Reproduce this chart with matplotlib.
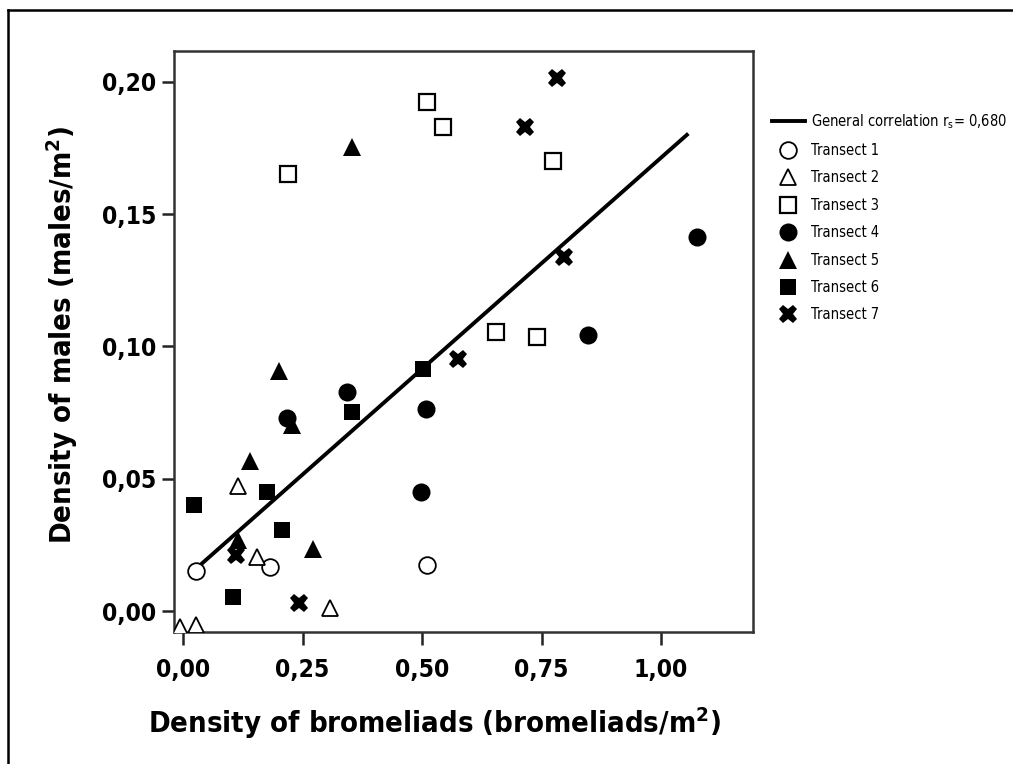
import matplotlib
matplotlib.use("Agg")
import matplotlib.pyplot as plt
from matplotlib import font_manager
from matplotlib.lines import Line2D

# values
T1_X = [0.027, 0.182, 0.510]
T1_Y = [0.0151, 0.0166, 0.0174]
T2_X = [-0.006, 0.027, 0.115, 0.155, 0.308]
T2_Y = [-0.0060, -0.0053, 0.0472, 0.0204, 0.0011]
T3_X = [0.220, 0.510, 0.544, 0.774, 0.655, 0.741]
T3_Y = [0.1652, 0.1924, 0.1829, 0.1701, 0.1054, 0.1036]
T4_X = [0.218, 0.343, 0.508, 0.498, 0.847, 1.075]
T4_Y = [0.0729, 0.0828, 0.0763, 0.0450, 0.1043, 0.1413]
T5_X = [0.354, 0.201, 0.228, 0.140, 0.115, 0.272]
T5_Y = [0.1754, 0.0907, 0.0703, 0.0567, 0.0268, 0.0234]
T6_X = [0.023, 0.176, 0.207, 0.105, 0.354, 0.502]
T6_Y = [0.0401, 0.0450, 0.0306, 0.0053, 0.0752, 0.0915]
T7_X = [0.782, 0.715, 0.797, 0.575, 0.111, 0.243]
T7_Y = [0.2014, 0.1829, 0.1338, 0.0952, 0.0212, 0.0030]
FIT_X = [0.036, 1.054]
FIT_Y = [0.0174, 0.1799]

X_TICKS = [0.0, 0.25, 0.5, 0.75, 1.0]
X_TICKLABELS = ["0,00", "0,25", "0,50", "0,75", "1,00"]
Y_TICKS = [0.0, 0.05, 0.10, 0.15, 0.20]
Y_TICKLABELS = ["0,00", "0,05", "0,10", "0,15", "0,20"]

# pick a condensed sans if one is installed, else plain Liberation Sans
fonts = font_manager.fontManager.ttflist
names = {f.name for f in fonts}
stretch = "normal"
if "Liberation Sans Narrow" in names:
    family, scale = "Liberation Sans Narrow", 1.0
elif any(f.name == "DejaVu Sans" and str(f.stretch) in ("condensed", "semi-condensed", "87.5")
         for f in fonts):
    family, scale, stretch = "DejaVu Sans", 0.84, "condensed"
elif "Roboto Condensed" in names:
    family, scale = "Roboto Condensed", 0.95
else:
    family, scale = "Liberation Sans", 0.86

plt.rcParams["font.family"] = [family, "DejaVu Sans"]
plt.rcParams["font.stretch"] = stretch

fig = plt.figure(figsize=(10.13, 7.64), dpi=100)
ax = fig.add_axes([0.1718, 0.1728, 0.5716, 0.7605])

ax.plot(FIT_X, FIT_Y, color="black", lw=2.8, zorder=2,
        label="General correlation r$_\\mathregular{s}$= 0,680")

open_kw = dict(ls="none", mfc="white", mec="black", mew=1.3, zorder=3)
fill_kw = dict(ls="none", mfc="black", mec="black", mew=0, zorder=3)
ax.plot(T1_X, T1_Y, "o", ms=12, label="Transect 1", **open_kw)
ax.plot(T2_X, T2_Y, "^", ms=12, label="Transect 2", **open_kw)
ax.plot(T3_X, T3_Y, "s", ms=11, label="Transect 3", **{**open_kw, "mew": 1.6})
ax.plot(T4_X, T4_Y, "o", ms=13, label="Transect 4", **fill_kw)
ax.plot(T5_X, T5_Y, "^", ms=13, label="Transect 5", **fill_kw)
ax.plot(T6_X, T6_Y, "s", ms=12, label="Transect 6", **fill_kw)
ax.plot(T7_X, T7_Y, "X", ms=13, label="Transect 7", **fill_kw)

ax.set_xlim(-0.0188, 1.1925)
ax.set_ylim(-0.0079, 0.2116)
ax.set_xticks(X_TICKS)
ax.set_xticklabels(X_TICKLABELS)
ax.set_yticks(Y_TICKS)
ax.set_yticklabels(Y_TICKLABELS)
ax.tick_params(axis="both", direction="out", length=9, width=1.8,
               labelsize=21 * scale, color="#222")
ax.tick_params(axis="x", pad=10)
ax.tick_params(axis="y", pad=4)
for lab in ax.get_xticklabels() + ax.get_yticklabels():
    lab.set_fontweight("bold")
for sp in ax.spines.values():
    sp.set_linewidth(1.8)
    sp.set_color("#333")

# axis titles placed where the reference has them
fig.text(435 / 1013, 1 - 723 / 764,
         "Density of bromeliads (bromeliads/m$^\\mathregular{2}$)",
         ha="center", va="center", fontsize=25 * scale, fontweight="bold")
fig.text(62 / 1013, 1 - 335 / 764,
         "Density of males (males/m$^\\mathregular{2}$)",
         ha="center", va="center", rotation=90, fontsize=25 * scale,
         fontweight="bold")

leg = ax.legend(loc="upper left", bbox_to_anchor=(1.022, 0.905), frameon=False,
                fontsize=12.5 * scale, handlelength=2.3, handletextpad=0.4,
                labelspacing=0.85, borderaxespad=0)

# outer frame of the original figure
fig.add_artist(Line2D([8 / 1013, 8 / 1013], [0, 1 - 10 / 764],
                      transform=fig.transFigure, color="black", lw=1.8))
fig.add_artist(Line2D([8 / 1013, 1], [1 - 10 / 764, 1 - 10 / 764],
                      transform=fig.transFigure, color="black", lw=1.8))

fig.savefig("out.png", dpi=100)
